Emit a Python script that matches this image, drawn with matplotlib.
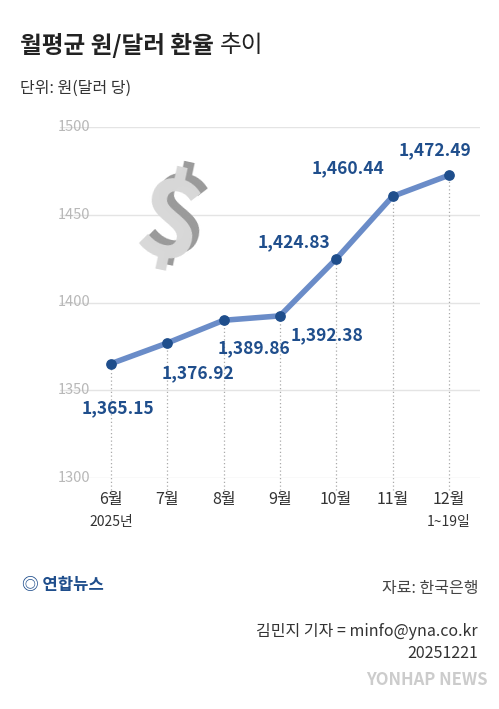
import matplotlib.pyplot as plt

plt.rcParams['font.family'] = ['Noto Sans CJK KR', 'DejaVu Sans']

months = ['6월', '7월', '8월', '9월', '10월', '11월', '12월']
sub_labels = {0: '2025년', 6: '1~19일'}
rates = [1365.15, 1376.92, 1389.86, 1392.38, 1424.83, 1460.44, 1472.49]
yticks = [1300, 1350, 1400, 1450, 1500]

W, H = 499, 709
fig = plt.figure(figsize=(W / 100, H / 100), dpi=100)
fig.patch.set_facecolor('white')

def fx(px):
    return px / W

def fy(py):
    return 1 - py / H

ax = fig.add_axes([fx(60), fy(478), fx(420), 351 / H])
x = list(range(len(rates)))
ax.set_xlim((60 - 111) / 56.3, (480 - 111) / 56.3)
ax.set_ylim(1300, 1500)

for t in yticks:
    ax.axhline(t, color='#e4e4e4', lw=1, zorder=0)
    ax.text(-0.95, t, str(t), ha='left', va='center', fontsize=10.5, color='#b8b8b8')
for i, v in zip(x, rates):
    ax.plot([i, i], [1293, v], ls=(0, (1, 2)), color='#aaaaaa', lw=0.9, clip_on=False, zorder=1)

ax.plot(x, rates, color='#6a8cc8', lw=4, zorder=2)
ax.scatter(x, rates, s=45, color='#1f4e8c', zorder=3)

offsets = [(5, -32, 'center'), (22, -22, 'center'), (22, -20, 'center'), (8, -14, 'left'),
           (-4, 12, 'right'), (-6, 20, 'right'), (-10, 18, 'center')]
for i, v, (dx, dy, ha) in zip(x, rates, offsets):
    ax.annotate(f'{v:,.2f}', (i, v), xytext=(dx, dy), textcoords='offset points',
                ha=ha, va='center', fontsize=12.5, fontweight='bold', color='#1f4e8c')

for i, m in enumerate(months):
    ax.text(i, 1300 - 22 * 200 / 351, m, ha='center', va='center', fontsize=11.5, color='#333333')
for i, s in sub_labels.items():
    ax.text(i, 1300 - 44 * 200 / 351, s, ha='center', va='center', fontsize=10, color='#333333')

ax.axis('off')

# dollar icon
fig.text(fx(176), fy(222), '$', fontsize=78, fontweight='bold', color='#9a9a9a',
         ha='center', va='center', rotation=-12)
fig.text(fx(169), fy(227), '$', fontsize=78, fontweight='bold', color='#d8d8d8',
         ha='center', va='center', rotation=-12)

title = fig.text(fx(20), fy(45), '월평균 원/달러 환율', fontsize=17, fontweight='bold', color='#222222', va='center')
fig.canvas.draw()
bb = title.get_window_extent()
fig.text(bb.x1 / W + fx(6), fy(45), '추이', fontsize=17, color='#222222', va='center')
fig.text(fx(20), fy(88), '단위: 원(달러 당)', fontsize=11.5, color='#333333', va='center')

fig.text(fx(22), fy(585), '◎ 연합뉴스', fontsize=12, fontweight='bold', color='#1f4e8c', va='center')
fig.text(fx(478), fy(588), '자료: 한국은행', fontsize=11.5, color='#444444', ha='right', va='center')
fig.text(fx(478), fy(632), '김민지 기자 = minfo@yna.co.kr', fontsize=11.5, color='#333333', ha='right', va='center')
fig.text(fx(478), fy(653), '20251221', fontsize=11.5, color='#333333', ha='right', va='center')
fig.text(fx(488), fy(680), 'YONHAP NEWS', fontsize=12, fontweight='bold', color='#cccccc', ha='right', va='center')

fig.savefig('out.png', dpi=100)
